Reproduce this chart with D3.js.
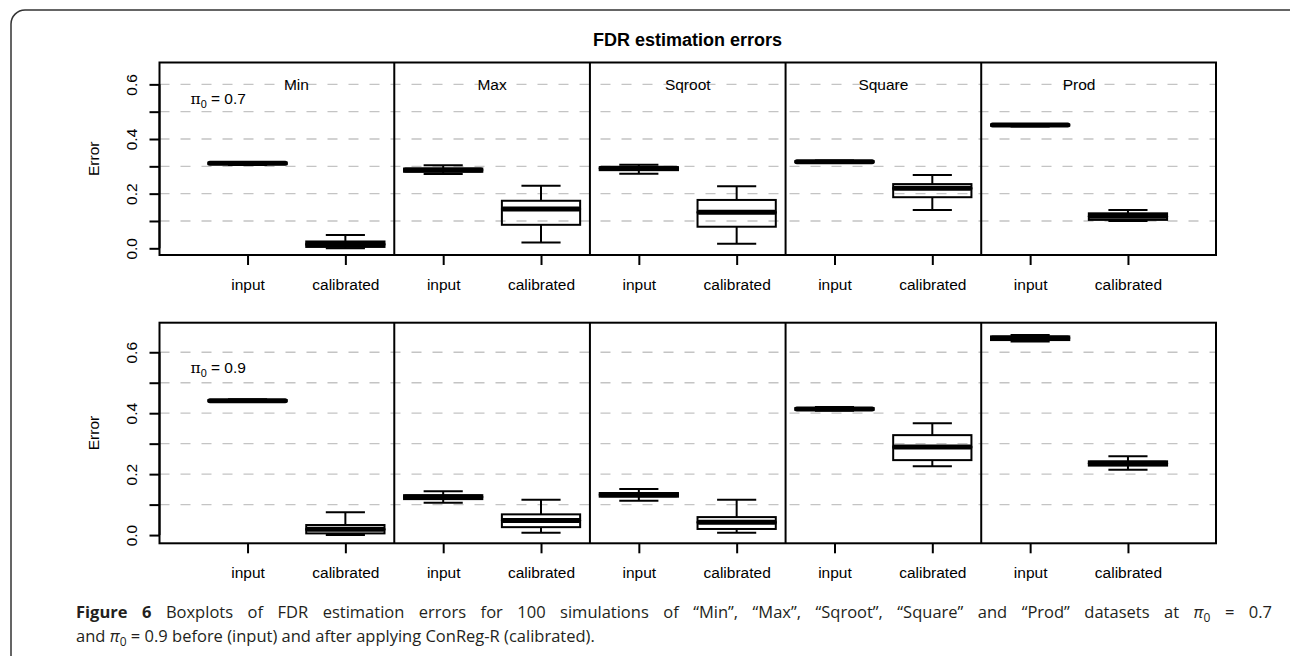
<!DOCTYPE html>
<html>
<head>
<meta charset="utf-8">
<script src="https://cdn.jsdelivr.net/npm/d3@7"></script>
<style>
  body { margin: 0; background: #fff; }
  svg { display: block; }
  .plot text { font-family: "Liberation Sans", Arial, Helvetica, sans-serif; fill: #000; }
  .caption { font-family: "Open Sans", "Noto Sans", sans-serif; fill: #231f20; }
</style>
</head>
<body>
<svg id="chart" width="1290" height="656"></svg>
<script>
// datasets and groups
const datasets = ['Min', 'Max', 'Sqroot', 'Square', 'Prod'];
const groups = ['input', 'calibrated'];
const yTicks = [0, 0.1, 0.2, 0.3, 0.4, 0.5, 0.6];
const yLabels = ['0.0', '', '0.2', '', '0.4', '', '0.6'];
const gridValues = [0.1, 0.2, 0.3, 0.4, 0.5, 0.6];

// box stats: [lower whisker, q1, median, q3, upper whisker], order Min in/cal, Max in/cal, ...
const statsPi07 = [
  [0.305, 0.308, 0.311, 0.314, 0.316],
  [0.000, 0.005, 0.015, 0.025, 0.049],
  [0.272, 0.280, 0.2865, 0.292, 0.304],
  [0.021, 0.086, 0.144, 0.174, 0.229],
  [0.273, 0.286, 0.293, 0.297, 0.306],
  [0.017, 0.079, 0.132, 0.177, 0.227],
  [0.312, 0.315, 0.317, 0.319, 0.321],
  [0.140, 0.187, 0.2195, 0.235, 0.268],
  [0.446, 0.449, 0.451, 0.453, 0.455],
  [0.100, 0.104, 0.117, 0.128, 0.140]
];
const statsPi09 = [
  [0.437, 0.439, 0.441, 0.443, 0.446],
  [0.000, 0.0055, 0.019, 0.033, 0.0745],
  [0.106, 0.118, 0.125, 0.131, 0.144],
  [0.008, 0.026, 0.048, 0.068, 0.116],
  [0.113, 0.126, 0.132, 0.138, 0.151],
  [0.008, 0.020, 0.042, 0.059, 0.116],
  [0.408, 0.411, 0.414, 0.417, 0.420],
  [0.2255, 0.246, 0.289, 0.328, 0.367],
  [0.635, 0.640, 0.647, 0.652, 0.657],
  [0.2145, 0.228, 0.2354, 0.242, 0.259]
];

const svg = d3.select('#chart');
const fs = 15.5;

// outer frame
svg.append('rect')
  .attr('x', 11).attr('y', 10)
  .attr('width', 1300).attr('height', 660)
  .attr('rx', 14)
  .attr('fill', 'none')
  .attr('stroke', '#333')
  .attr('stroke-width', 1.5);

const plot = svg.append('g').attr('class', 'plot');

plot.append('text')
  .attr('x', 687.5).attr('y', 46)
  .attr('text-anchor', 'middle')
  .attr('font-weight', 'bold')
  .attr('font-size', 18)
  .text('FDR estimation errors');

const x = d3.scaleLinear().domain([0.1, 10.9]).range([159.5, 1216]);
const positions = d3.range(1, 11);
const boxLabels = positions.map((p, i) => groups[i % 2]);

const panels = [
  { stats: statsPi07, top: 62.5, bottom: 255, domain: [-0.0245, 0.68], pi: '0.7', titles: true },
  { stats: statsPi09, top: 322.7, bottom: 543.3, domain: [-0.027, 0.697], pi: '0.9', titles: false }
];

panels.forEach(p => {
  const y = d3.scaleLinear().domain(p.domain).range([p.bottom, p.top]);
  const g = plot.append('g');

  // dashed grid
  g.selectAll('.grid')
    .data(gridValues)
    .enter()
    .append('line')
    .attr('x1', x.range()[0]).attr('x2', x.range()[1])
    .attr('y1', d => y(d)).attr('y2', d => y(d))
    .attr('stroke', '#c4c4c4')
    .attr('stroke-width', 1.3)
    .attr('stroke-dasharray', '10,11');

  // boxes
  const box = g.selectAll('.box')
    .data(p.stats)
    .enter()
    .append('g')
    .attr('class', 'box');

  const half = 0.4;
  const cap = 0.2;
  box.append('line')
    .attr('x1', (d, i) => x(positions[i])).attr('x2', (d, i) => x(positions[i]))
    .attr('y1', d => y(d[3])).attr('y2', d => y(d[4]));
  box.append('line')
    .attr('x1', (d, i) => x(positions[i])).attr('x2', (d, i) => x(positions[i]))
    .attr('y1', d => y(d[1])).attr('y2', d => y(d[0]));
  box.append('line')
    .attr('x1', (d, i) => x(positions[i] - cap)).attr('x2', (d, i) => x(positions[i] + cap))
    .attr('y1', d => y(d[4])).attr('y2', d => y(d[4]));
  box.append('line')
    .attr('x1', (d, i) => x(positions[i] - cap)).attr('x2', (d, i) => x(positions[i] + cap))
    .attr('y1', d => y(d[0])).attr('y2', d => y(d[0]));
  box.append('rect')
    .attr('x', (d, i) => x(positions[i] - half))
    .attr('width', (d, i) => x(positions[i] + half) - x(positions[i] - half))
    .attr('y', d => y(d[3]))
    .attr('height', d => y(d[1]) - y(d[3]))
    .attr('fill', 'none');
  box.selectAll('line, rect')
    .attr('stroke', '#000')
    .attr('stroke-width', 2);
  box.append('line')
    .attr('x1', (d, i) => x(positions[i] - half) + 1.5).attr('x2', (d, i) => x(positions[i] + half) - 1.5)
    .attr('y1', d => y(d[2])).attr('y2', d => y(d[2]))
    .attr('stroke', '#000')
    .attr('stroke-width', 5)
    .attr('stroke-linecap', 'round');

  // panel dividers
  g.selectAll('.divider')
    .data([2.5, 4.5, 6.5, 8.5])
    .enter()
    .append('line')
    .attr('x1', d => x(d)).attr('x2', d => x(d))
    .attr('y1', p.top).attr('y2', p.bottom)
    .attr('stroke', '#000')
    .attr('stroke-width', 2);

  // plot box
  g.append('rect')
    .attr('x', x.range()[0]).attr('y', p.top)
    .attr('width', x.range()[1] - x.range()[0])
    .attr('height', p.bottom - p.top)
    .attr('fill', 'none')
    .attr('stroke', '#000')
    .attr('stroke-width', 2);

  // y axis
  const yAxis = g.append('g')
    .attr('transform', `translate(${x.range()[0]},0)`)
    .call(d3.axisLeft(y).tickValues(yTicks).tickSizeOuter(0).tickSize(10)
      .tickFormat((d, i) => yLabels[i]));
  yAxis.select('.domain').attr('stroke-width', 2)
    .attr('d', `M0,${y(0)}V${y(0.6)}`);
  yAxis.selectAll('.tick line').attr('stroke-width', 2);
  yAxis.selectAll('.tick text')
    .attr('x', 0).attr('y', -22.5).attr('dy', null)
    .attr('transform', 'rotate(-90)')
    .attr('text-anchor', 'middle')
    .attr('font-size', fs)
    .attr('font-family', null);
  yAxis.attr('font-family', null).attr('font-size', null);

  // x axis
  const xAxis = g.append('g')
    .attr('transform', `translate(0,${p.bottom})`)
    .call(d3.axisBottom(x).tickValues(positions).tickSize(10).tickSizeOuter(0)
      .tickFormat((d, i) => boxLabels[i]));
  xAxis.select('.domain').remove();
  xAxis.selectAll('.tick line').attr('stroke-width', 2);
  xAxis.selectAll('.tick text')
    .attr('y', 35).attr('dy', null)
    .attr('font-size', fs);
  xAxis.attr('font-family', null).attr('font-size', null);

  // y label
  g.append('text')
    .attr('transform', `translate(99,${(p.top + p.bottom) / 2}) rotate(-90)`)
    .attr('text-anchor', 'middle')
    .attr('font-size', fs)
    .text('Error');

  // pi0 label
  const pl = g.append('text')
    .attr('x', x(0.7)).attr('y', y(0.55) + fs * 0.36)
    .attr('text-anchor', 'middle')
    .attr('font-size', fs);
  pl.append('tspan').attr('font-family', '"DejaVu Serif", serif').text('π');
  pl.append('tspan').attr('font-size', fs * 0.7).attr('dy', 4).text('0');
  pl.append('tspan').attr('dy', -4).text(' = ' + p.pi);

  // panel titles
  if (p.titles) {
    g.selectAll('.ptitle')
      .data(datasets)
      .enter()
      .append('text')
      .attr('x', (d, i) => x((positions[2 * i] + positions[2 * i + 1]) / 2))
      .attr('y', y(0.6) + fs * 0.36)
      .attr('text-anchor', 'middle')
      .attr('font-size', fs)
      .text(d => d);
  }
});

// caption
const cap1 = svg.append('text').attr('class', 'caption')
  .attr('x', 76).attr('y', 618).attr('font-size', 16.5);
cap1.append('tspan').attr('font-weight', 'bold').text('Figure 6');
cap1.append('tspan').text(' Boxplots of FDR estimation errors for 100 simulations of “Min”, “Max”, “Sqroot”, “Square” and “Prod” datasets at ');
cap1.append('tspan').attr('font-style', 'italic').text('π');
cap1.append('tspan').attr('font-size', 12).attr('dy', 4).text('0');
cap1.append('tspan').attr('dy', -4).text(' = 0.7');

const cap2 = svg.append('text').attr('class', 'caption')
  .attr('x', 76).attr('y', 642).attr('font-size', 16.5);
cap2.append('tspan').text('and ');
cap2.append('tspan').attr('font-style', 'italic').text('π');
cap2.append('tspan').attr('font-size', 12).attr('dy', 4).text('0');
cap2.append('tspan').attr('dy', -4).text(' = 0.9 before (input) and after applying ConReg-R (calibrated).');

// justify first caption line
const natural = cap1.node().getComputedTextLength();
const spaces = cap1.text().split(' ').length - 1;
cap1.attr('word-spacing', (1272 - 76 - natural) / spaces);
</script>
</body>
</html>
